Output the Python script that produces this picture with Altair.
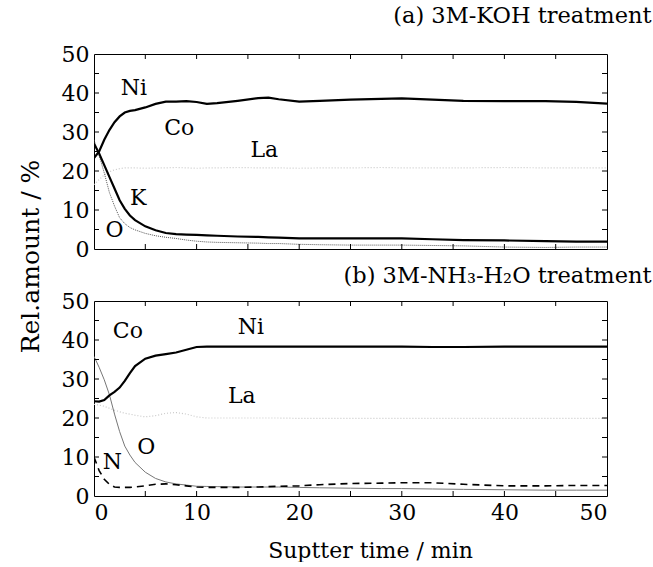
import altair as alt
import pandas as pd

# ---------------- data ----------------
time = [0, 0.5, 1, 1.5, 2, 2.5, 3, 3.5, 4, 5, 6, 7, 8, 9, 10, 11, 12, 14, 16, 17, 18,
        20, 22, 25, 28, 30, 33, 36, 40, 44, 47, 50]

# (a) 3M-KOH treatment
a_ni = [23.3, 25.0, 28.0, 30.5, 32.5, 34.0, 35.0, 35.4, 35.6, 36.3, 37.2, 37.8, 37.8, 37.9, 37.7,
        37.2, 37.4, 38.0, 38.7, 38.8, 38.4, 37.8, 38.0, 38.3, 38.5, 38.6, 38.3, 38.0, 37.9, 37.9,
        37.7, 37.3]
a_k = [27.0, 24.5, 21.5, 18.5, 15.5, 12.5, 10.3, 8.6, 7.4, 5.8, 4.8, 4.1, 3.8, 3.7, 3.6, 3.5, 3.4,
       3.2, 3.1, 3.0, 2.9, 2.7, 2.7, 2.7, 2.7, 2.7, 2.5, 2.3, 2.2, 2.0, 1.9, 1.9]
a_o = [28.0, 24.0, 19.5, 14.5, 11.0, 8.0, 6.5, 5.5, 4.9, 4.0, 3.4, 3.0, 2.7, 2.3, 2.0, 1.8, 1.7,
       1.6, 1.5, 1.4, 1.4, 1.2, 1.1, 1.0, 1.0, 1.0, 0.9, 0.8, 0.5, 0.4, 0.5, 0.5]
a_la = [16.5, 17.8, 19.0, 19.8, 20.3, 20.6, 20.8, 20.8, 20.8, 20.7, 20.8, 20.8, 20.9, 20.8, 20.7,
        20.8, 20.8, 20.9, 20.8, 20.8, 20.8, 20.7, 20.8, 20.8, 20.9, 20.8, 20.8, 20.8, 20.9, 20.8,
        20.8, 20.8]

# (b) 3M-NH3-H2O treatment
b_ni = [24.3, 24.2, 24.6, 25.8, 26.7, 27.8, 29.5, 31.5, 33.3, 35.2, 36.0, 36.4, 36.8, 37.5, 38.2,
        38.3, 38.3, 38.3, 38.3, 38.3, 38.3, 38.3, 38.3, 38.3, 38.3, 38.3, 38.2, 38.2, 38.3, 38.3,
        38.3, 38.3]
b_o = [35.8, 33.0, 29.8, 26.0, 21.0, 16.5, 12.8, 10.5, 8.6, 6.1, 4.5, 3.6, 3.1, 2.8, 2.5, 2.45,
       2.4, 2.3, 2.3, 2.3, 2.3, 2.2, 2.1, 2.0, 1.9, 1.9, 1.8, 1.7, 1.6, 1.5, 1.5, 1.5]
b_la = [23.5, 23.3, 23.0, 22.5, 22.0, 21.6, 21.2, 21.0, 20.7, 20.3, 20.6, 21.2, 21.4, 21.0, 20.3,
        20.0, 20.0, 20.0, 20.0, 20.0, 20.0, 19.9, 19.9, 19.9, 19.9, 19.9, 19.9, 19.9, 19.9, 19.9,
        19.9, 19.9]
b_n = [10.0, 6.5, 4.3, 3.0, 2.3, 2.2, 2.2, 2.2, 2.3, 2.6, 3.0, 3.1, 2.9, 2.6, 2.3, 2.2, 2.2, 2.2,
       2.3, 2.4, 2.5, 2.6, 2.9, 3.2, 3.3, 3.4, 3.4, 3.0, 2.6, 2.6, 2.7, 2.7]

a_lab = ["Ni", "Co", "La", "K", "O"]
a_lab_x = [3.9, 8.3, 16.6, 4.3, 2.0]
a_lab_y = [41.2, 31.0, 25.4, 13.0, 4.9]

b_lab = ["Co", "Ni", "La", "O", "N"]
b_lab_x = [3.3, 15.3, 14.4, 5.1, 1.8]
b_lab_y = [42.2, 43.4, 25.6, 12.5, 8.6]

x_ticks = [5, 10, 15, 20, 25, 30, 35, 40, 45]
y_ticks = [5, 10, 15, 20, 25, 30, 35, 40, 45]
axis_vals = [0, 10, 20, 30, 40, 50]

W, H = 513, 195
FONT = "DejaVu Serif"

xs = alt.Scale(domain=[0, 50], nice=False)
ys = alt.Scale(domain=[0, 50], nice=False)


def make_axes(show_x, ytitle):
    if show_x:
        xax = alt.Axis(values=axis_vals, ticks=False, domain=False, grid=False, labelFont=FONT,
                       labelFontSize=22, labelPadding=6, labelColor="black", labelOverlap=False,
                       title="Suptter time / min", titleFont=FONT, titleFontSize=22,
                       titleFontWeight="normal", titleColor="black", titleX=276, titleY=61,
                       titleBaseline="alphabetic", titleAlign="center")
    else:
        xax = None
    yargs = dict(values=axis_vals, ticks=False, domain=False, grid=False, labelFont=FONT,
                 labelFontSize=22, labelPadding=5, labelColor="black", labelOverlap=False,
                 labelBound=False)
    if ytitle:
        yargs.update(title="Rel.amount / %", titleFont=FONT, titleFontSize=25,
                     titleFontWeight="normal", titleColor="black", titleX=-56, titleY=202,
                     titleAngle=-90, titleBaseline="alphabetic", titleAlign="center")
    else:
        yargs.update(title=None)
    return xax, alt.Axis(**yargs)


def line(values, color, width, ax, dash=None):
    df = pd.DataFrame({"t": time, "v": values})
    kw = dict(color=color, strokeWidth=width, clip=True)
    if dash:
        kw["strokeDash"] = dash
    return alt.Chart(df).mark_line(**kw).encode(
        x=alt.X("t:Q", scale=xs, axis=ax[0]), y=alt.Y("v:Q", scale=ys, axis=ax[1]))


def ticks(ax):
    tx = pd.DataFrame({"t": x_ticks})
    ty = pd.DataFrame({"v": y_ticks})
    st = dict(color="black", strokeWidth=1)
    X = alt.X("t:Q", scale=xs, axis=ax[0])
    Y = alt.Y("v:Q", scale=ys, axis=ax[1])
    return [
        alt.Chart(tx).mark_rule(**st).encode(x=X, y=alt.value(H), y2=alt.value(H - 5)),
        alt.Chart(tx).mark_rule(**st).encode(x=X, y=alt.value(0), y2=alt.value(5)),
        alt.Chart(ty).mark_rule(**st).encode(y=Y, x=alt.value(0), x2=alt.value(5)),
        alt.Chart(ty).mark_rule(**st).encode(y=Y, x=alt.value(W), x2=alt.value(W - 5)),
    ]


def labels(names, lx, ly, ax):
    df = pd.DataFrame({"n": names, "x": lx, "y": ly})
    return alt.Chart(df).mark_text(font=FONT, fontSize=22, baseline="middle", align="center",
                                   color="black").encode(
        x=alt.X("x:Q", scale=xs, axis=ax[0]), y=alt.Y("y:Q", scale=ys, axis=ax[1]), text="n:N")


axa = make_axes(False, True)
axb = make_axes(True, False)

top = alt.layer(
    line(a_la, "#c8c8c8", 1.2, axa, [1, 2]),
    line(a_o, "#555555", 1.0, axa, [1, 1]),
    line(a_k, "black", 2.2, axa),
    line(a_ni, "black", 2.2, axa),
    labels(a_lab, a_lab_x, a_lab_y, axa),
    *ticks(axa),
).properties(
    width=W, height=H,
    title=alt.TitleParams("(a) 3M-KOH treatment", anchor="end", dx=44, font=FONT, fontSize=22.5,
                          fontWeight="normal", color="black", offset=16))

bottom = alt.layer(
    line(b_la, "#c8c8c8", 1.2, axb, [1, 2]),
    line(b_o, "#777777", 1.0, axb),
    line(b_n, "black", 1.6, axb, [7, 5]),
    line(b_ni, "black", 2.2, axb),
    labels(b_lab, b_lab_x, b_lab_y, axb),
    *ticks(axb),
).properties(
    width=W, height=H,
    title=alt.TitleParams("(b) 3M-NH₃-H₂O treatment", anchor="end", dx=44, font=FONT, fontSize=22.5,
                          fontWeight="normal", color="black", offset=3))

chart = alt.vconcat(top, bottom, spacing=52, bounds="flush").properties(
    padding={"left": 17, "top": 4, "right": 0, "bottom": 0}, background="white"
).configure_view(stroke="black", strokeWidth=1)

chart.save("out.html", embed_options={"renderer": "svg", "actions": False})
